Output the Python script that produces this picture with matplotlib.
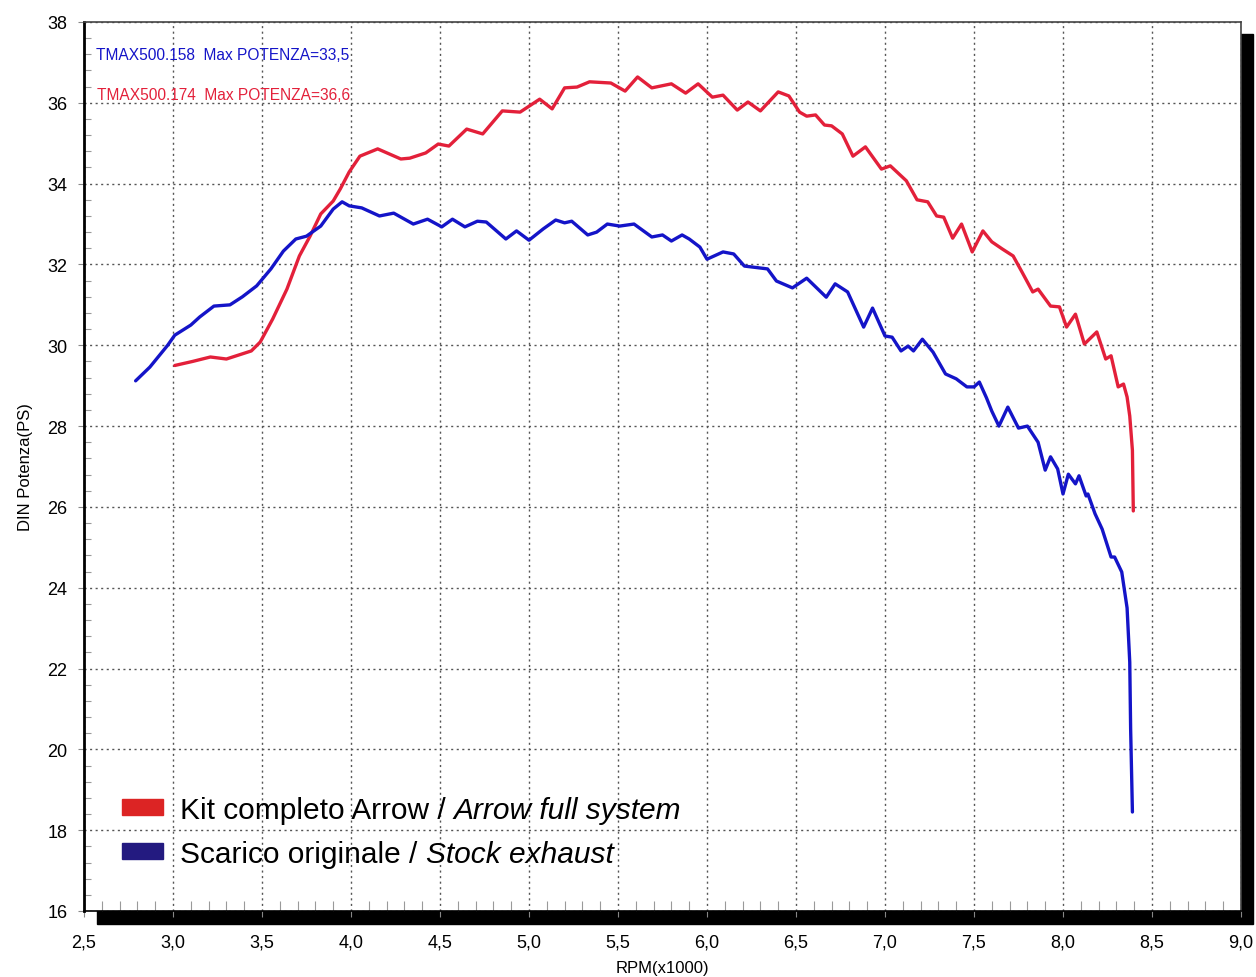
import matplotlib
matplotlib.use("Agg")
import matplotlib.pyplot as plt
from matplotlib.patches import Rectangle
from matplotlib.ticker import MultipleLocator, FuncFormatter

# =====================================================
# DATA
# =====================================================

rpm_stock = [2.79, 2.87, 2.97, 3.01, 3.10, 3.15, 3.23, 3.32, 3.39, 3.47,
             3.55, 3.62, 3.69, 3.75, 3.83, 3.90, 3.95, 3.99, 4.06, 4.16,
             4.24, 4.35, 4.43, 4.51, 4.57, 4.64, 4.71, 4.76, 4.87, 4.93,
             5.00, 5.08, 5.15, 5.20, 5.24, 5.33, 5.38, 5.44, 5.51, 5.59,
             5.69, 5.75, 5.80, 5.86, 5.90, 5.96, 6.00, 6.09, 6.15, 6.21,
             6.34, 6.39, 6.48, 6.56, 6.67, 6.72, 6.79, 6.88, 6.93, 7.00,
             7.04, 7.09, 7.13, 7.16, 7.21, 7.27, 7.34, 7.40, 7.46, 7.50,
             7.53, 7.57, 7.60, 7.64, 7.69, 7.75, 7.80, 7.86, 7.90, 7.93,
             7.97, 8.00, 8.03, 8.07, 8.09, 8.13, 8.14, 8.18, 8.22, 8.27,
             8.29, 8.33, 8.36, 8.375, 8.38, 8.39]
ps_stock = [29.12, 29.46, 30.0, 30.25, 30.5, 30.7, 30.97, 31.0, 31.2, 31.47,
            31.89, 32.33, 32.63, 32.7, 32.95, 33.37, 33.55, 33.45, 33.4, 33.2,
            33.27, 33.0, 33.12, 32.93, 33.12, 32.93, 33.07, 33.05, 32.63, 32.83,
            32.6, 32.88, 33.1, 33.03, 33.07, 32.73, 32.8, 33.0, 32.95, 33.0,
            32.68, 32.73, 32.58, 32.73, 32.63, 32.43, 32.13, 32.31, 32.26, 31.96,
            31.89, 31.59, 31.42, 31.66, 31.19, 31.52, 31.32, 30.45, 30.92, 30.23,
            30.2, 29.86, 29.98, 29.86, 30.15, 29.83, 29.29, 29.17, 28.97, 28.97,
            29.09, 28.7, 28.37, 28.0, 28.47, 27.95, 28.0, 27.6, 26.91, 27.24,
            26.94, 26.32, 26.81, 26.57, 26.77, 26.27, 26.32, 25.83, 25.45, 24.76,
            24.76, 24.39, 23.5, 22.16, 20.5, 18.45]

rpm_arrow = [3.01, 3.11, 3.21, 3.30, 3.44, 3.49, 3.56, 3.64, 3.71, 3.77,
             3.83, 3.90, 3.94, 3.99, 4.05, 4.15, 4.28, 4.33, 4.42, 4.49,
             4.55, 4.65, 4.74, 4.85, 4.95, 5.06, 5.13, 5.20, 5.27, 5.34,
             5.46, 5.54, 5.61, 5.69, 5.80, 5.88, 5.95, 6.03, 6.09, 6.17,
             6.23, 6.30, 6.40, 6.46, 6.52, 6.56, 6.61, 6.66, 6.70, 6.76,
             6.82, 6.89, 6.98, 7.03, 7.12, 7.18, 7.24, 7.29, 7.33, 7.38,
             7.43, 7.49, 7.55, 7.60, 7.66, 7.72, 7.77, 7.83, 7.86, 7.93,
             7.98, 8.02, 8.07, 8.12, 8.19, 8.24, 8.27, 8.31, 8.34, 8.36,
             8.375, 8.39, 8.395]
ps_arrow = [29.5, 29.6, 29.71, 29.66, 29.86, 30.08, 30.65, 31.39, 32.21, 32.70,
            33.25, 33.57, 33.87, 34.29, 34.68, 34.86, 34.61, 34.63, 34.76, 34.98,
            34.93, 35.35, 35.23, 35.8, 35.77, 36.09, 35.85, 36.37, 36.39, 36.52,
            36.49, 36.29, 36.64, 36.37, 36.47, 36.24, 36.47, 36.14, 36.19, 35.82,
            36.02, 35.8, 36.27, 36.17, 35.77, 35.67, 35.70, 35.45, 35.43, 35.23,
            34.68, 34.91, 34.36, 34.44, 34.07, 33.6, 33.55, 33.2, 33.17, 32.65,
            33.0, 32.31, 32.83, 32.56, 32.38, 32.21, 31.81, 31.32, 31.39, 30.97,
            30.95, 30.45, 30.77, 30.03, 30.33, 29.66, 29.74, 28.97, 29.04, 28.72,
            28.25, 27.4, 25.9]

label_stock = "TMAX500.158  Max POTENZA=33,5"
label_arrow = "TMAX500.174  Max POTENZA=36,6"

RED = "#e3203a"
BLUE = "#1414c8"

# =====================================================
# FIGURE
# =====================================================

plt.rcParams['font.family'] = ['Liberation Sans', 'DejaVu Sans']

W, H = 1256, 978
fig = plt.figure(figsize=(W / 100, H / 100), dpi=100)
ax = fig.add_axes([84 / W, 1 - 912 / H, (1241 - 84) / W, (912 - 23) / H])
ax.set_zorder(1)

# drop shadow behind the plot frame
fig.add_artist(Rectangle((97 / W, 1 - 925 / H), (1253 - 97) / W, (925 - 35) / H,
                         transform=fig.transFigure, color='black', zorder=0))

ax.plot(rpm_arrow, ps_arrow, color=RED, linewidth=2.4, solid_joinstyle='round',
        solid_capstyle='round', zorder=3)
ax.plot(rpm_stock, ps_stock, color=BLUE, linewidth=2.4, solid_joinstyle='round',
        solid_capstyle='round', zorder=3)

ax.set_xlim(2.5, 9.0)
ax.set_ylim(16, 38)

ax.xaxis.set_major_locator(MultipleLocator(0.5))
ax.xaxis.set_minor_locator(MultipleLocator(0.1))
ax.yaxis.set_major_locator(MultipleLocator(2))
ax.yaxis.set_minor_locator(MultipleLocator(0.4))
ax.xaxis.set_major_formatter(FuncFormatter(lambda v, p: f"{v:.1f}".replace('.', ',')))

ax.grid(True, which='major', color='#555555', linestyle=(0, (1.5, 2.5)), linewidth=1)

ax.tick_params(axis='x', which='major', direction='out', length=4, color='#888888',
               pad=12, labelsize=13)
ax.tick_params(axis='y', which='major', direction='out', length=4, color='#888888',
               pad=8, labelsize=13)
ax.tick_params(axis='x', which='minor', direction='in', length=7, color='#999999', width=0.8)
ax.tick_params(axis='y', which='minor', direction='in', length=5, color='#999999', width=0.8)

for side in ['top', 'right']:
    ax.spines[side].set_color('#444444')
    ax.spines[side].set_linewidth(1.2)
ax.spines['left'].set_linewidth(2)
ax.spines['bottom'].set_linewidth(1.2)

ax.set_xlabel("RPM(x1000)", fontsize=12, labelpad=7)
ax.set_ylabel("DIN Potenza(PS)", fontsize=12, labelpad=10)

# max power labels
ax.text(0.0104, 0.963, label_stock, transform=ax.transAxes, color=BLUE,
        fontsize=11.2, va='center', ha='left')
ax.text(0.0115, 0.918, label_arrow, transform=ax.transAxes, color=RED,
        fontsize=11.2, va='center', ha='left')

# legend
ax.add_patch(Rectangle((0.0328, 0.108), 0.0355, 0.018, transform=ax.transAxes,
                       color='#dc2424', zorder=4))
ax.add_patch(Rectangle((0.0328, 0.0585), 0.0355, 0.018, transform=ax.transAxes,
                       color='#231a80', zorder=4))

t1 = ax.text(0.083, 0.114, "Kit completo Arrow / ", transform=ax.transAxes,
             fontsize=21.5, va='center', ha='left', zorder=4)
ax.annotate("Arrow full system", xycoords=t1, xy=(1, 0), va='bottom',
            fontsize=21.5, style='italic', zorder=4)
t2 = ax.text(0.083, 0.064, "Scarico originale / ", transform=ax.transAxes,
             fontsize=21.5, va='center', ha='left', zorder=4)
ax.annotate("Stock exhaust", xycoords=t2, xy=(1, 0), va='bottom',
            fontsize=21.5, style='italic', zorder=4)

fig.savefig("out.png", dpi=100)
